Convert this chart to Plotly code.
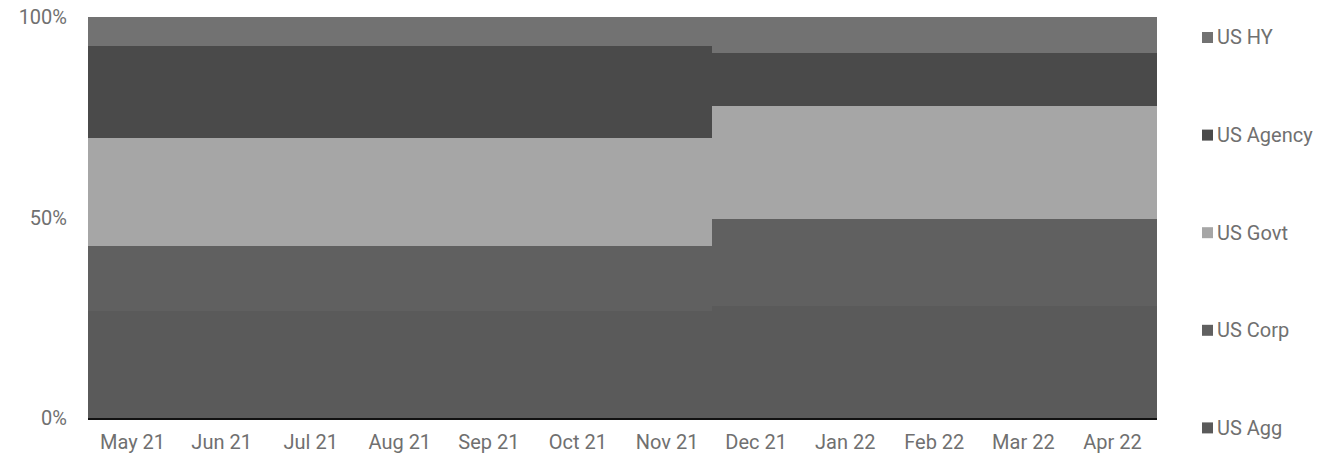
import plotly.graph_objects as go

months = ["May 21", "Jun 21", "Jul 21", "Aug 21", "Sep 21", "Oct 21",
          "Nov 21", "Dec 21", "Jan 22", "Feb 22", "Mar 22", "Apr 22"]

# Portfolio allocation shares (%) per month
us_agg    = [26.7, 26.7, 26.7, 26.7, 26.7, 26.7, 26.7, 27.9, 27.9, 27.9, 27.9, 27.9]
us_corp   = [16.2, 16.2, 16.2, 16.2, 16.2, 16.2, 16.2, 21.7, 21.7, 21.7, 21.7, 21.7]
us_govt   = [27.0, 27.0, 27.0, 27.0, 27.0, 27.0, 27.0, 28.2, 28.2, 28.2, 28.2, 28.2]
us_agency = [22.9, 22.9, 22.9, 22.9, 22.9, 22.9, 22.9, 13.1, 13.1, 13.1, 13.1, 13.1]
us_hy     = [7.2, 7.2, 7.2, 7.2, 7.2, 7.2, 7.2, 9.1, 9.1, 9.1, 9.1, 9.1]

series_names = ["US Agg", "US Corp", "US Govt", "US Agency", "US HY"]
series_values = [us_agg, us_corp, us_govt, us_agency, us_hy]
series_colors = ["#5a5a5a", "#606060", "#a6a6a6", "#4a4a4a", "#727272"]

W, H = 1319, 459
ML, MR, MT, MB = 88, 162, 17, 41
PW, PH = W - ML - MR, H - MT - MB

def px_x(p):
    return (p - ML) / PW

def px_y(q):
    return (H - MB - q) / PH

fig = go.Figure()
for name, vals, color in zip(series_names, series_values, series_colors):
    fig.add_trace(go.Bar(
        x=months, y=vals, name=name, showlegend=False,
        marker=dict(color=color, line=dict(width=0)),
    ))

text_color = "#707070"
font = dict(family="Roboto, sans-serif", size=20, color=text_color)

# Legend column on the right: top entry is the top of the stack
shapes, annotations = [], []
legend_top, legend_step = 37.5, 97.6
for i, (name, color) in enumerate(zip(series_names[::-1], series_colors[::-1])):
    cy = legend_top + legend_step * i
    shapes.append(dict(
        type="rect", xref="paper", yref="paper",
        x0=px_x(1202), x1=px_x(1213), y0=px_y(cy + 5.5), y1=px_y(cy - 5.5),
        fillcolor=color, line=dict(width=0),
    ))
    annotations.append(dict(
        xref="paper", yref="paper", x=px_x(1215), y=px_y(cy),
        xanchor="left", yanchor="middle", text=name, showarrow=False,
        font=font,
    ))

fig.update_layout(
    width=W, height=H,
    margin=dict(l=ML, r=MR, t=MT, b=MB, autoexpand=False),
    barmode="stack", bargap=0,
    plot_bgcolor="white", paper_bgcolor="white",
    font=font, showlegend=False,
    shapes=shapes, annotations=annotations,
    xaxis=dict(
        showgrid=False, showline=True, linecolor="#111111", linewidth=2,
        ticks="", ticklabelstandoff=5, tickfont=font, automargin=False,
    ),
    yaxis=dict(
        range=[0, 100], tickvals=[0, 50, 100], ticktext=["0%", "50%", "100%"],
        showgrid=False, zeroline=False, ticks="", ticklabelstandoff=20,
        tickfont=font, automargin=False,
    ),
)

fig.write_html("out.html")
